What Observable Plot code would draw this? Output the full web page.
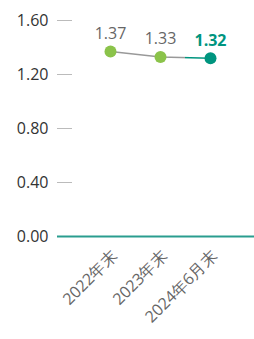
<!DOCTYPE html>
<html><head><meta charset="utf-8">
<script src="https://cdn.jsdelivr.net/npm/d3@7"></script>
<script src="https://cdn.jsdelivr.net/npm/@observablehq/plot@0.6"></script>
<style>body{margin:0;background:#fff;font-family:"Open Sans",sans-serif}</style>
</head><body>
<svg width="0" height="0" style="position:absolute"><defs>
<linearGradient id="lg" x1="0" x2="1" y1="0" y2="0">
<stop offset="0.74" stop-color="#999"/><stop offset="0.75" stop-color="#00957f"/>
</linearGradient></defs></svg>
<div id="c"></div>
<script>
const periods = ["2022年末", "2023年末", "2024年6月末"];
const values = [1.37, 1.33, 1.32];
const yTicks = [0, 0.4, 0.8, 1.2, 1.6];
const data = periods.map((p, i) => ({p, v: values[i], last: i === periods.length - 1}));
const chart = Plot.plot({
  width: 254, height: 339,
  marginLeft: 57, marginRight: 0, marginTop: 20, marginBottom: 103,
  style: {fontFamily: "Open Sans", background: "#fff"},
  x: {type: "point", domain: periods, range: [110, 210], padding: 0, label: null},
  y: {domain: [0, 1.6], label: null},
  marks: [
    Plot.axisY({ticks: yTicks, tickFormat: d => d.toFixed(2), tickSize: -15, tickPadding: 24, stroke: "#bbb", color: "#333", fontSize: 16, label: null}),
    Plot.axisX({tickSize: 0, tickRotate: -45, tickPadding: 17, dx: 4, fontSize: 16, color: "#666", label: null}),
    Plot.ruleY([0], {stroke: "#2a9d8f", strokeWidth: 2}),
    Plot.line(data, {x: "p", y: "v", stroke: "url(#lg)", strokeWidth: 1.5}),
    Plot.dot(data, {x: "p", y: "v", r: 6, fill: d => d.last ? "#00957f" : "#8bc34a", stroke: null}),
    Plot.text(data.filter(d => !d.last), {x: "p", y: "v", text: d => d.v.toFixed(2), dy: -18, fill: "#666", fontSize: 16}),
    Plot.text(data.filter(d => d.last), {x: "p", y: "v", text: d => d.v.toFixed(2), dy: -17, fill: "#00957f", fontSize: 16, fontWeight: "bold"})
  ]
});
document.getElementById("c").appendChild(chart);
</script>
</body></html>
